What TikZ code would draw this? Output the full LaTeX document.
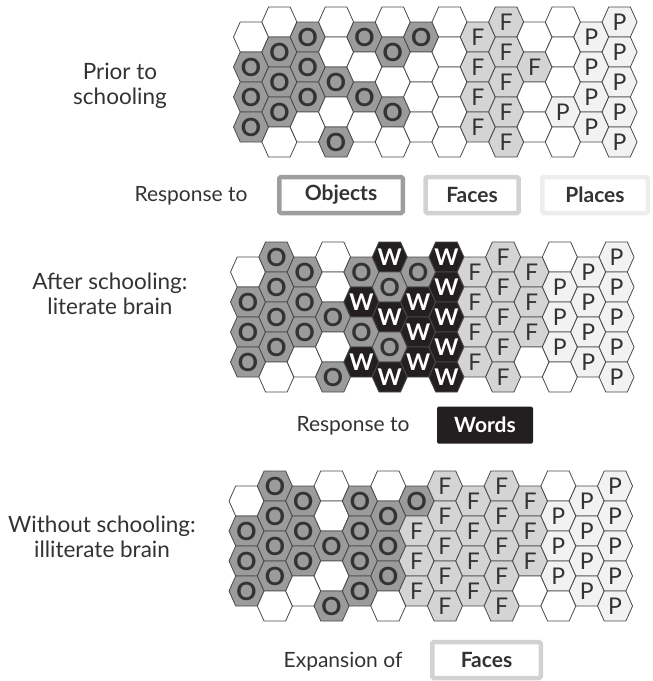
\documentclass[tikz,border=0pt]{standalone}
\usepackage{fontspec}
\setmainfont{Lato}
\definecolor{ofill}{HTML}{9B9B9B}
\definecolor{ffill}{HTML}{D4D4D4}
\definecolor{pfill}{HTML}{F2F2F2}
\definecolor{wfill}{HTML}{231F20}
\definecolor{edge}{HTML}{4A4A4A}
\definecolor{ink}{HTML}{333333}
\definecolor{objline}{HTML}{9E9E9E}
\definecolor{faceline}{HTML}{D2D2D2}
\definecolor{placeline}{HTML}{EDEDED}
\newcommand\hexgrid[4]{%
  \foreach \colspec [count=\hc from 0] in {#4} {%
    \pgfmathtruncatemacro\cpar{mod(\hc,2)}%
    \foreach \hk [count=\hr from 0] in \colspec {%
      \pgfmathsetmacro\hx{#2+\hc*28.35}%
      \pgfmathsetmacro\hy{#3+\hr*30+15*(1-\cpar)}%
      \path[hextype/.expanded=\hk] (\hx,\hy) ++(-17.5,0) -- ++(6.7,-15) -- ++(21.6,0)
        -- ++(6.7,15) -- ++(-6.7,15) -- ++(-21.6,0) -- cycle;
      \node (#1-\hc-\hr) at (\hx,\hy) [labtype/.expanded=\hk];
    }%
  }%
}
\tikzset{
  hexbase/.style={draw=edge,line width=0.8pt,line join=miter},
  hexe/.style={hexbase,fill=white},
  hexo/.style={hexbase,fill=ofill},
  hexf/.style={hexbase,fill=ffill},
  hexp/.style={hexbase,fill=pfill},
  hexw/.style={hexbase,fill=wfill},
  hextype/.style={hex#1},
  labbase/.style={inner sep=0pt},
  labe/.style={labbase,node contents={}},
  labo/.style={labbase,text=ink,font=\fontsize{25}{25}\selectfont\bfseries,node contents=O},
  labf/.style={labbase,text=ink,font=\fontsize{23}{23}\selectfont,node contents=F},
  labp/.style={labbase,text=ink,font=\fontsize{23}{23}\selectfont,node contents=P},
  labw/.style={labbase,text=white,font=\fontsize{23}{23}\selectfont\bfseries,node contents=W},
  labtype/.style={lab#1},
  sidelabel/.style={align=center,text=ink,font=\fontsize{22.5}{25}\selectfont,inner sep=0pt},
  resp/.style={text=ink,font=\fontsize{21}{21}\selectfont,inner sep=0pt,anchor=base},
  keybox/.style={line width=4.5pt,rounded corners=1.5pt,fill=white,text=ink,
    font=\fontsize{21}{21}\selectfont\bfseries,inner sep=0pt},
}
\begin{document}
\begin{tikzpicture}[x=1pt,y=-1pt]
\useasboundingbox (0,0) rectangle (653,681);
% grid 1: prior to schooling
\hexgrid{ga}{251}{22}{{e,o,o,o},{e,o,o,o,e},{o,o,o,e},{e,e,o,e,o},{o,e,o,e},{e,o,e,o,e},{o,e,e,e},
  {e,e,e,e,e},{f,f,f,f},{f,f,f,f,f},{e,f,e,e},{e,e,e,p,e},{p,p,p,p},{p,p,p,p,p}}
% grid 2: literate
\hexgrid{gb}{248}{257}{{e,o,o,o},{o,o,o,o,e},{o,o,o,e},{e,e,o,e,o},{o,w,o,w},{w,o,w,o,w},{o,w,w,w},
  {w,w,w,w,w},{f,f,f,f},{f,f,f,f,f},{f,f,f,e},{e,p,p,p,e},{p,p,p,p},{p,p,p,p,p}}
% grid 3: illiterate
\hexgrid{gc}{246.5}{486}{{e,o,o,o},{o,o,o,o,e},{o,o,o,e},{e,e,o,e,o},{o,o,o,o},{e,o,o,o,e},{o,f,f,f},
  {f,f,f,f,f},{f,f,f,f},{f,f,f,f,f},{f,f,f,e},{e,p,p,p,e},{p,p,p,p},{p,p,p,p,p}}

% side labels (base = baseline of last line)
\node[sidelabel,anchor=base] (lprior) at (120,104) {Prior to\\schooling};
\node[sidelabel,anchor=base] (lafter) at (110,314) {After schooling:\\literate brain};
\node[sidelabel,anchor=base] (lwithout) at (102,557) {Without schooling:\\illiterate brain};

% legend row 1
\node[resp] (resp1) at (191,201) {Response to};
\node[keybox,draw=objline,minimum width=123.5pt,minimum height=36pt] (kobj) at (341,195) {Objects};
\node[keybox,draw=faceline,minimum width=93pt,minimum height=36pt] (kface) at (472,195) {Faces};
\node[keybox,draw=placeline,minimum width=105.5pt,minimum height=36pt] (kplace) at (595,195) {Places};

% legend row 2
\node[resp] (resp2) at (353,431) {Response to};
\node[keybox,draw=none,fill=wfill,text=white,minimum width=96pt,minimum height=37pt] (kwords) at (485,425) {Words};

% legend row 3
\node[resp] (resp3) at (343,667) {Expansion of};
\node[keybox,draw=faceline,minimum width=108.5pt,minimum height=36pt] (kface2) at (486.5,660) {Faces};
\end{tikzpicture}
\end{document}
